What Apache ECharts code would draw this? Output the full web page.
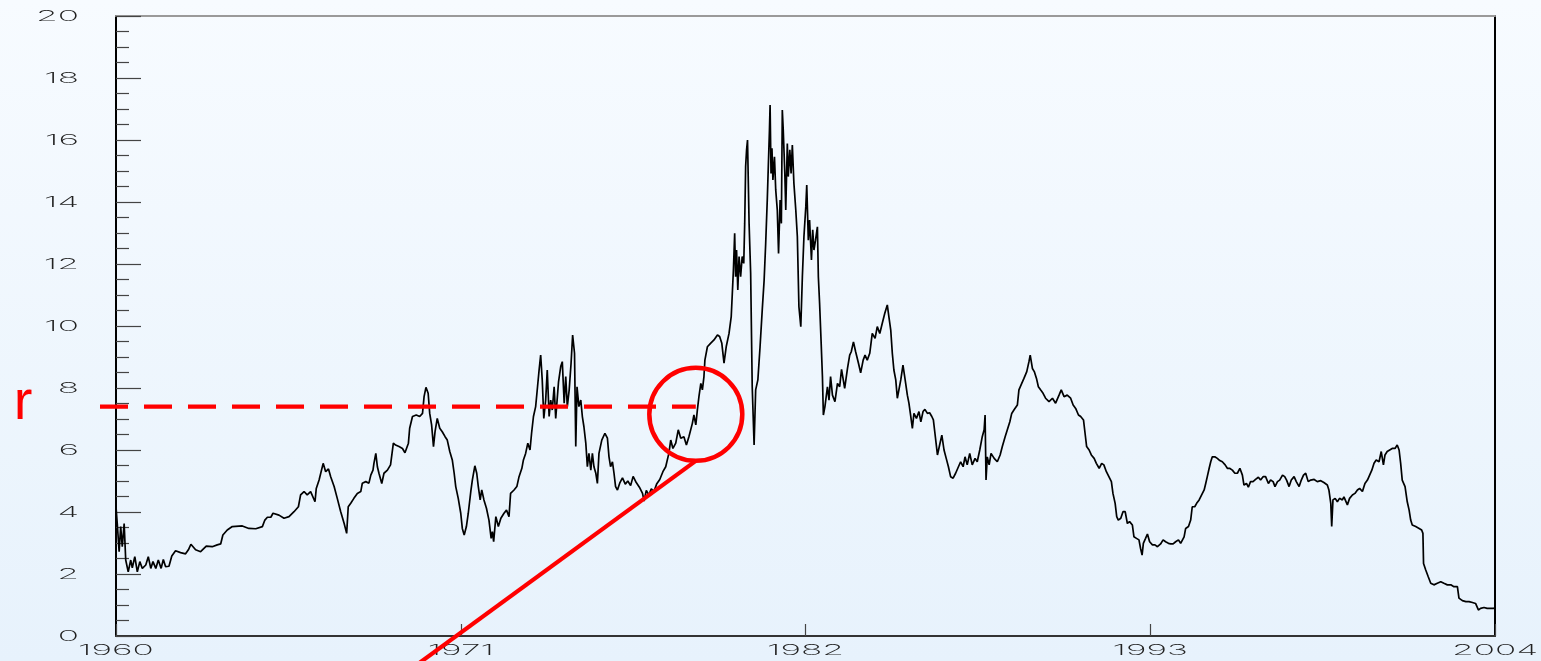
<!DOCTYPE html>
<html>
<head>
<meta charset="utf-8">
<script src="https://cdn.jsdelivr.net/npm/echarts@6/dist/echarts.min.js"></script>
<style>
  html, body { margin: 0; padding: 0; width: 1541px; height: 661px; overflow: hidden;
    background: linear-gradient(180deg, #f7fbff 0%, #e7f2fc 100%); }
  #chart { width: 1541px; height: 661px; }
</style>
</head>
<body>
<div id="chart"></div>
<script>
// Short-term interest rate, 1960-2004 (decimal year, percent)
const years = [
  1960.00,1960.04,1960.10,1960.15,1960.20,1960.26,1960.31,1960.39,1960.47,1960.52,1960.60,1960.68,1960.76,1960.84,1960.95,
  1961.03,1961.11,1961.18,1961.27,1961.35,1961.44,1961.51,1961.58,1961.69,1961.78,1961.90,1962.06,1962.22,1962.31,1962.39,
  1962.54,1962.70,1962.88,1963.07,1963.23,1963.34,1963.41,1963.55,1963.71,1964.03,1964.24,1964.46,1964.67,1964.75,1964.83,
  1964.94,1965.01,1965.20,1965.36,1965.52,1965.68,1965.82,1965.89,1966.00,1966.10,1966.21,1966.35,1966.39,1966.48,1966.53,
  1966.61,1966.69,1966.78,1966.85,1966.96,1967.06,1967.17,1967.28,1967.36,1967.41,1967.49,1967.59,1967.70,1967.81,1967.86,
  1967.97,1968.07,1968.13,1968.20,1968.23,1968.29,1968.34,
  1968.39,1968.48,1968.55,1968.66,1968.76,1968.85,1968.92,1969.03,1969.14,1969.22,1969.33,1969.37,1969.46,1969.58,1969.69,
  1969.78,1969.83,1969.89,1969.96,1970.01,1970.07,1970.13,1970.18,1970.25,1970.33,1970.41,1970.50,1970.57,1970.65,1970.73,
  1970.79,1970.84,1970.92,1971.00,1971.05,1971.11,1971.18,1971.24,1971.32,1971.37,1971.45,1971.51,1971.56,1971.62,1971.67,
  1971.74,1971.82,1971.90,1971.97,1972.01,1972.05,1972.12,1972.20,1972.28,1972.38,1972.46,1972.54,1972.59,1972.70,1972.79,
  1972.86,1972.95,1973.00,1973.07,1973.14,1973.21,1973.26,1973.32,1973.39,1973.45,1973.50,1973.55,1973.60,1973.65,1973.71,
  1973.76,1973.82,1973.87,1973.92,1973.98,1974.03,1974.12,1974.19,1974.24,1974.30,1974.35,1974.40,1974.46,1974.52,1974.57,
  1974.63,1974.67,1974.71,1974.77,1974.83,1974.88,1974.93,1974.99,1975.04,1975.09,1975.15,1975.20,1975.25,1975.31,1975.36,
  1975.41,1975.50,1975.60,1975.68,1975.73,1975.78,1975.84,1975.89,1975.94,1976.00,
  1976.08,1976.16,1976.25,1976.33,1976.42,1976.50,1976.60,1976.70,1976.80,1976.85,1976.92,1977.00,1977.08,1977.16,1977.25,
  1977.35,1977.45,
  1977.54,1977.64,1977.70,1977.77,1977.86,1977.94,1978.02,1978.12,1978.20,1978.28,1978.39,1978.44,1978.50,1978.55,1978.60,
  1978.66,1978.71,1978.76,1978.79,1978.87,1978.97,1979.08,1979.19,1979.26,1979.33,1979.40,1979.47,1979.56,1979.63,1979.67,
  1979.70,1979.74,1979.77,1979.80,1979.84,1979.88,1979.93,1979.98,1980.03,1980.06,1980.09,1980.12,1980.15,1980.20,1980.25,
  1980.30,1980.36,1980.41,1980.48,1980.55,1980.62,1980.68,1980.73,1980.78,1980.81,1980.85,1980.87,1980.90,1980.93,1980.96,
  1981.01,1981.05,1981.10,1981.14,1981.19,1981.23,1981.26,1981.29,1981.34,1981.37,1981.42,1981.45,1981.50,1981.54,1981.58,
  1981.63,1981.69,1981.74,1981.79,1981.85,1981.90,1981.95,1982.01,1982.04,1982.09,1982.13,1982.19,1982.23,1982.27,1982.32,
  1982.38,1982.41,1982.45,1982.50,1982.54,1982.57,
  1982.62,1982.70,1982.75,1982.80,1982.86,1982.94,1983.02,1983.09,1983.15,1983.25,1983.34,1983.41,1983.46,1983.53,1983.60,
  1983.69,1983.76,1983.84,1983.90,1983.97,1984.05,1984.13,1984.22,1984.29,1984.37,1984.45,1984.53,1984.61,1984.66,1984.72,
  1984.77,1984.82,1984.88,1984.93,1984.98,1985.04,1985.11,1985.18,1985.25,1985.30,1985.36,1985.41,1985.46,1985.54,1985.62,
  1985.68,1985.75,1985.81,1985.89,1985.96,1986.03,1986.08,1986.13,1986.21,1986.28,1986.35,1986.42,1986.49,1986.56,1986.63,
  1986.71,1986.79,1986.88,1986.95,1987.03,1987.09,1987.16,1987.24,1987.32,1987.41,1987.48,1987.56,1987.64,1987.70,1987.73,
  1987.76,1987.80,1987.86,1987.92,1988.02,1988.12,1988.21,1988.28,1988.37,1988.44,1988.52,1988.58,1988.65,1988.76,1988.81,
  1988.90,1988.97,1989.06,1989.13,1989.17,1989.24,1989.30,1989.37,1989.43,1989.50,1989.58,1989.66,
  1989.77,1989.88,1989.98,1990.09,1990.16,1990.25,1990.35,1990.46,1990.54,1990.62,1990.71,1990.78,1990.87,1990.92,1990.97,
  1991.05,1991.12,1991.21,1991.28,1991.37,1991.45,1991.52,1991.60,1991.68,1991.76,1991.81,1991.88,1991.93,1991.98,1992.06,
  1992.13,1992.20,1992.27,1992.34,1992.43,1992.48,1992.56,1992.64,1992.69,1992.74,1992.78,1992.85,1992.91,1992.98,1993.07,
  1993.15,1993.23,1993.28,1993.33,1993.41,1993.49,1993.58,1993.65,1993.73,1993.81,1993.90,1993.97,1994.02,1994.08,1994.13,
  1994.22,1994.29,1994.34,1994.42,1994.48,1994.56,1994.64,1994.72,1994.77,1994.82,1994.88,1994.93,1994.98,1995.06,1995.14,
  1995.22,1995.30,1995.39,1995.46,1995.53,1995.62,1995.70,1995.78,1995.86,1995.94,1995.99,1996.07,1996.13,1996.20,1996.28,
  1996.36,1996.45,1996.52,1996.60,1996.68,1996.77,1996.84,1996.92,1996.98,1997.06,1997.13,1997.22,1997.29,1997.35,1997.43,
  1997.50,1997.59,1997.66,1997.75,1997.82,1997.89,1997.96,1998.04,
  1998.12,1998.23,1998.33,1998.44,1998.54,1998.65,1998.70,1998.76,1998.79,1998.83,1998.90,1998.97,1999.04,1999.13,1999.18,
  1999.29,1999.36,1999.45,1999.53,1999.61,1999.68,1999.77,1999.85,1999.93,2000.00,2000.07,2000.14,2000.21,2000.30,2000.37,
  2000.44,2000.49,2000.56,2000.64,2000.72,2000.81,2000.88,2000.94,2000.99,2001.04,2001.13,2001.20,2001.26,2001.31,2001.36,
  2001.47,2001.58,2001.66,2001.70,2001.72,2001.79,2001.87,2001.95,2002.05,2002.16,2002.27,2002.37,2002.48,2002.59,2002.69,
  2002.80,2002.85,2002.96,2003.07,2003.17,2003.28,2003.38,2003.47,2003.54,2003.65,2003.75,2003.86,2003.94,2004.00
];
const rates = [
  4.17,3.63,2.72,3.53,2.88,3.63,2.45,2.07,2.45,2.20,2.56,2.07,2.40,2.18,2.29,
  2.56,2.18,2.40,2.18,2.45,2.18,2.47,2.24,2.25,2.58,2.75,2.69,2.65,2.78,2.96,
  2.78,2.72,2.90,2.88,2.94,2.97,3.26,3.42,3.53,3.55,3.47,3.46,3.53,3.74,3.83,
  3.83,3.96,3.90,3.80,3.85,4.01,4.17,4.55,4.66,4.55,4.66,4.33,4.76,5.03,5.08,
  5.57,5.30,5.39,5.14,4.82,4.44,4.01,3.63,3.31,4.17,4.28,4.44,4.60,4.66,4.93,
  4.98,4.93,5.19,5.35,5.57,5.89,5.46,
  5.25,4.92,5.25,5.35,5.52,6.22,6.16,6.11,6.05,5.91,6.22,6.70,7.08,7.13,7.08,
  7.18,7.72,8.02,7.83,7.18,6.81,6.11,6.59,7.02,6.70,6.59,6.43,6.32,5.95,5.68,
  5.25,4.82,4.44,3.96,3.47,3.26,3.53,3.96,4.66,5.03,5.49,5.25,4.82,4.39,4.71,
  4.39,4.12,3.74,3.15,3.37,3.04,3.85,3.53,3.80,3.96,4.06,3.85,4.60,4.71,4.82,
  5.14,5.41,5.68,5.89,6.22,6.00,6.54,7.08,7.40,8.04,8.58,9.06,8.26,7.02,7.61,
  8.58,7.08,7.61,7.29,8.04,7.02,8.20,8.69,8.85,7.51,8.37,7.40,7.94,8.80,9.71,
  9.12,6.11,8.04,7.40,7.61,7.08,6.75,6.22,5.46,5.89,5.35,5.89,5.46,5.25,4.92,
  5.89,6.32,6.54,6.38,5.78,5.46,5.62,5.25,4.82,4.71,
  4.95,5.10,4.90,5.00,4.85,5.15,4.95,4.80,4.60,4.35,4.70,4.55,4.75,4.65,4.90,
  5.05,5.30,
  5.46,5.89,6.32,6.05,6.22,6.65,6.38,6.43,6.16,6.43,6.86,7.13,6.81,7.29,7.72,
  8.15,7.94,8.37,8.90,9.33,9.44,9.55,9.71,9.66,9.44,8.80,9.33,9.76,10.30,11.16,
  11.81,12.99,11.59,12.45,11.16,12.24,11.59,12.24,12.02,13.31,15.14,15.68,16.00,13.31,11.70,
  8.04,6.16,7.94,8.26,9.33,10.52,11.48,12.67,14.06,15.03,16.32,17.13,14.92,15.73,14.71,
  15.46,14.39,13.74,12.34,14.06,13.31,16.97,16.32,14.92,13.74,15.89,14.82,15.68,14.92,15.84,
  14.60,13.74,12.88,10.62,9.98,11.59,12.88,13.85,14.55,12.77,13.42,12.13,13.10,12.45,12.77,
  13.20,11.59,10.73,9.44,8.37,7.13,
  7.40,8.04,7.61,8.37,7.77,7.56,8.15,8.04,8.60,7.99,8.63,9.06,9.17,9.49,9.17,
  8.80,8.49,8.90,9.06,8.90,9.12,9.76,9.60,9.98,9.76,10.09,10.41,10.68,10.30,9.87,
  9.12,8.58,8.26,7.67,7.67,8.26,8.74,8.26,7.77,7.51,7.08,6.70,7.18,7.02,7.24,
  6.91,7.24,7.31,7.18,7.20,7.08,6.97,6.54,5.84,6.16,6.48,6.00,5.73,5.46,5.14,
  5.09,5.25,5.46,5.62,5.46,5.78,5.52,5.89,5.52,5.73,5.62,6.00,6.43,6.65,7.13,
  5.03,5.78,5.52,5.89,5.73,5.62,5.84,6.11,6.43,6.65,6.91,7.18,7.29,7.45,7.94,
  8.15,8.31,8.53,8.85,9.06,8.63,8.53,8.31,8.04,7.94,7.83,7.67,
  7.56,7.67,7.51,7.77,7.94,7.72,7.77,7.67,7.45,7.34,7.13,7.08,6.97,6.54,6.11,
  6.00,5.84,5.73,5.57,5.41,5.57,5.52,5.30,5.14,4.98,4.60,4.28,3.85,3.74,3.80,
  4.01,4.01,3.63,3.69,3.58,3.20,3.15,3.10,2.83,2.61,2.99,3.15,3.29,3.04,2.94,
  2.94,2.88,2.83,2.97,3.10,3.04,2.99,2.97,2.97,3.04,3.10,2.99,2.94,3.20,3.47,
  3.53,3.74,4.17,4.17,4.28,4.39,4.55,4.71,4.92,5.14,5.41,5.62,5.78,5.78,5.73,
  5.66,5.62,5.52,5.41,5.41,5.35,5.25,5.25,5.41,5.19,4.87,4.92,4.80,4.98,4.98,
  5.05,5.12,5.03,5.14,5.14,4.92,5.03,4.98,4.82,4.98,5.03,5.19,5.14,5.03,4.82,
  5.03,5.14,4.98,4.82,5.03,5.19,5.25,4.98,
  5.03,5.05,4.98,5.01,4.95,4.87,4.71,4.28,3.53,4.39,4.44,4.33,4.44,4.39,4.49,
  4.23,4.44,4.55,4.60,4.71,4.76,4.66,4.92,5.03,5.19,5.35,5.57,5.68,5.62,5.95,
  5.52,5.84,5.95,6.00,6.05,6.05,6.16,6.00,5.57,5.03,4.82,4.33,4.06,3.74,3.58,
  3.53,3.47,3.42,3.31,2.34,2.13,1.91,1.70,1.65,1.70,1.75,1.70,1.65,1.65,1.59,
  1.59,1.22,1.14,1.11,1.11,1.08,1.05,0.84,0.89,0.92,0.89,0.89,0.89,0.90
];

// Axis ticks and their printed labels
const baseYear = 1960;
const xTickLabels = ['1960', '1971', '1982', '1993', '2004'];
const yTickLabels = ['0', '2', '4', '6', '8', '10', '12', '14', '16', '18', '20'];

// Annotation: the level r and the point where the rate crosses it
const rLevel = 7.4;
const rLabel = 'r';
const focusYear = 1978.5;
const focusRate = 7.15;

const chart = echarts.init(document.getElementById('chart'), null, { renderer: 'canvas' });

const lineData = years.map((y, i) => [y - baseYear, rates[i]]);
const span = 2004 - baseYear;

chart.setOption({
  backgroundColor: 'transparent',
  animation: false,
  grid: { left: 116, top: 16, right: 46, bottom: 25 },
  xAxis: [
    {
      type: 'value', min: 0, max: span, interval: 11,
      axisLine: { onZero: false, lineStyle: { color: '#333', width: 2 } },
      axisTick: { inside: true, length: 12, lineStyle: { color: '#444', width: 1.2 } },
      axisLabel: { show: false },
      splitLine: { show: false }
    },
    {
      type: 'value', position: 'top', min: 0, max: span,
      axisLine: { onZero: false, lineStyle: { color: '#9a9a9a', width: 2 } },
      axisTick: { show: false }, axisLabel: { show: false }, splitLine: { show: false }
    }
  ],
  yAxis: [
    {
      type: 'value', min: 0, max: 20, interval: 2,
      axisLine: { onZero: false, lineStyle: { color: '#000', width: 2 } },
      axisTick: { inside: true, length: 25, lineStyle: { color: '#444', width: 1.2 } },
      minorTick: { show: true, splitNumber: 4, length: 13, lineStyle: { color: '#444', width: 1.2 } },
      axisLabel: { show: false },
      splitLine: { show: false }, minorSplitLine: { show: false }
    },
    {
      type: 'value', position: 'right', min: 0, max: 20,
      axisLine: { onZero: false, lineStyle: { color: '#000', width: 2 } },
      axisTick: { show: false }, axisLabel: { show: false }, splitLine: { show: false }
    }
  ],
  series: [{
    type: 'line',
    xAxisIndex: 0, yAxisIndex: 0,
    data: lineData,
    showSymbol: false,
    lineStyle: { color: '#000', width: 1.7 },
    z: 3
  }]
});

// Stretched, thin tick labels and the red annotation, placed through the axes
function px(t, v) { return chart.convertToPixel({ xAxisIndex: 0, yAxisIndex: 0 }, [t, v]); }

const labelFont = '200 15px Inter, "Liberation Sans", sans-serif';
const graphics = [];
const leftX = px(0, 0)[0];
const bottomY = px(0, 0)[1];

yTickLabels.forEach(lbl => {
  const y = px(0, Number(lbl))[1];
  graphics.push({
    type: 'text', x: leftX - 37, y: y, scaleX: 2.35, z: 10,
    style: { text: lbl, font: labelFont, fill: '#222',
      align: 'right', verticalAlign: 'middle', textAlign: 'right', textVerticalAlign: 'middle' }
  });
});
xTickLabels.forEach(lbl => {
  const x = px(Number(lbl) - baseYear, 0)[0];
  graphics.push({
    type: 'text', x: x, y: bottomY + 14, scaleX: 2.35, z: 10,
    style: { text: lbl, font: labelFont, fill: '#222',
      align: 'center', verticalAlign: 'middle', textAlign: 'center', textVerticalAlign: 'middle' }
  });
});

const rY = px(0, rLevel)[1];
const focus = px(focusYear - baseYear, focusRate);
const ringR = 46.5;
const ringEnd = px(focusYear - baseYear, rLevel);
const leaderEnd = px(1969.3 - baseYear, -1.15);

graphics.push(
  {
    type: 'line', z: 20,
    shape: { x1: leftX - 16, y1: rY, x2: ringEnd[0], y2: rY },
    style: { stroke: '#ff0000', lineWidth: 4.2, lineDash: [28, 16] }
  },
  {
    type: 'circle', z: 20,
    shape: { cx: focus[0], cy: focus[1], r: ringR },
    style: { stroke: '#ff0000', lineWidth: 4.5, fill: null }
  },
  {
    type: 'line', z: 20,
    shape: { x1: focus[0], y1: focus[1] + ringR, x2: leaderEnd[0], y2: leaderEnd[1] },
    style: { stroke: '#ff0000', lineWidth: 4.2 }
  },
  {
    type: 'text', x: 23, y: rY - 3, z: 20,
    style: { text: rLabel, font: '56px "Liberation Sans", Arial, sans-serif', fill: '#ff0000',
      align: 'center', verticalAlign: 'middle', textAlign: 'center', textVerticalAlign: 'middle' }
  }
);

chart.setOption({ graphic: { elements: graphics } });
</script>
</body>
</html>
